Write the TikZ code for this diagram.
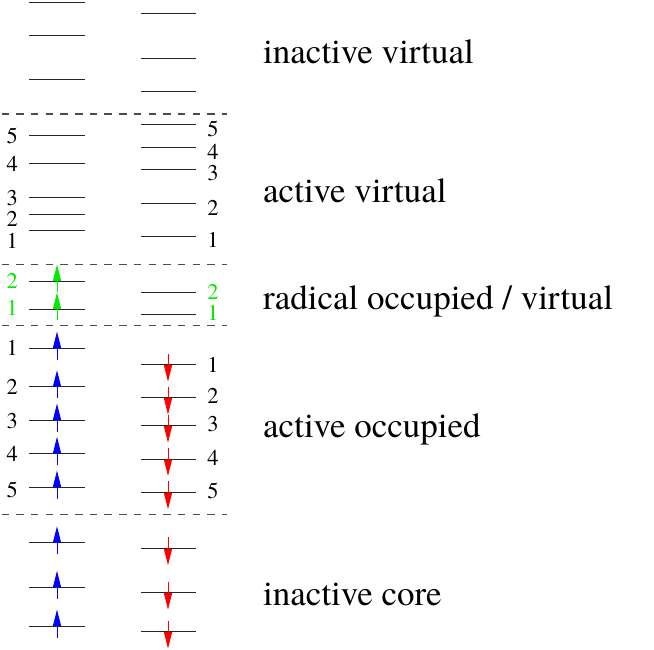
\documentclass[tikz,border=0pt]{standalone}
\usepackage{fontspec}
\newfontfamily\tfont{texgyretermes-regular.otf}
\usetikzlibrary{arrows.meta}
\tikzset{
  level/.style={line width=1pt, black!85},
  sep/.style={line width=1.1pt, black!70, dash pattern=on 7.5pt off 7.2pt},
  spinup/.style={line width=1pt, -{Triangle[length=16.5pt,width=8pt]}},
  spindown/.style={line width=1pt, -{Triangle[length=16.5pt,width=8pt]}},
  lbl/.style={font=\tfont\fontsize{22.5}{22.5}\selectfont, anchor=base, inner sep=0pt},
  title/.style={font=\tfont\fontsize{35}{35}\selectfont, anchor=base west, inner sep=0pt},
}
\definecolor{rgreen}{RGB}{0,235,0}
\begin{document}
\begin{tikzpicture}[x=1pt,y=-1pt]
\useasboundingbox (0,0) rectangle (654,650);
% separators
\foreach \y in {114,264.5,325.5,514.5}{
  \draw[sep] (1.5,\y) -- (227,\y);
}
% inactive virtual
\foreach \y in {3,36,80}{ \draw[level] (29,\y) -- (85,\y); }
\foreach \y in {14,58.7,91.7}{ \draw[level] (141,\y) -- (196,\y); }
% active virtual
\foreach \y/\l/\ly in {136/5/135.5,163.7/4/163.7,197.7/3/197.8,214.3/2/218.8,230.7/1/240.5}{
  \draw[level] (29,\y) -- (85,\y);
  \node[lbl] at (12.3,\ly+7.6) {\l};
}
\foreach \y/\l/\ly in {125/5/129,147.7/4/152,169.7/3/173,203.3/2/207.5,236.7/1/240}{
  \draw[level] (141,\y) -- (196,\y);
  \node[lbl] at (213,\ly+7.6) {\l};
}
% radical
\foreach \y/\l/\ly in {281/2/281,309/1/307.5}{
  \draw[level] (29,\y) -- (85,\y);
  \node[lbl, text=rgreen] at (12.3,\ly+7.6) {\l};
  \draw[spinup, rgreen] (57,\y+11) -- (57,\y-16.5);
}
\foreach \y/\l/\ly in {292.3/2/291.7,314/1/312.5}{
  \draw[level] (141,\y) -- (196,\y);
  \node[lbl, text=rgreen] at (213,\ly+7.6) {\l};
}
% active occupied
\foreach \y/\l/\ly in {348/1/347.5,386.7/2/387,420/3/420.5,453.3/4/454,487/5/489.5}{
  \draw[level] (29,\y) -- (85,\y);
  \node[lbl] at (12.3,\ly+7.6) {\l};
  \draw[spinup, blue] (57,\y+11.5) -- (57,\y-16.5);
}
\foreach \y/\l/\ly in {364.7/1/365,397.7/2/396,425.7/3/424,459/4/457.5,492.3/5/490.5}{
  \draw[level] (141,\y) -- (196,\y);
  \node[lbl] at (213,\ly+7.6) {\l};
  \draw[spindown, red] (168,\y-11) -- (168,\y+17);
}
% inactive core
\foreach \y in {542.7,587.3,626}{
  \draw[level] (29,\y) -- (85,\y);
  \draw[spinup, blue] (57,\y+11.5) -- (57,\y-16.5);
}
\foreach \y in {548.3,592.7,631.7}{
  \draw[level] (141,\y) -- (196,\y);
  \draw[spindown, red] (168,\y-11) -- (168,\y+17);
}
% titles
\node[title] (t1) at (263,64) {inactive virtual};
\node[title] (t2) at (263,203) {active virtual};
\node[title] (t3) at (263,309) {radical occupied / virtual};
\node[title] (t4) at (263,437) {active occupied};
\node[title] (t5) at (263,605) {inactive core};
\end{tikzpicture}
\end{document}
